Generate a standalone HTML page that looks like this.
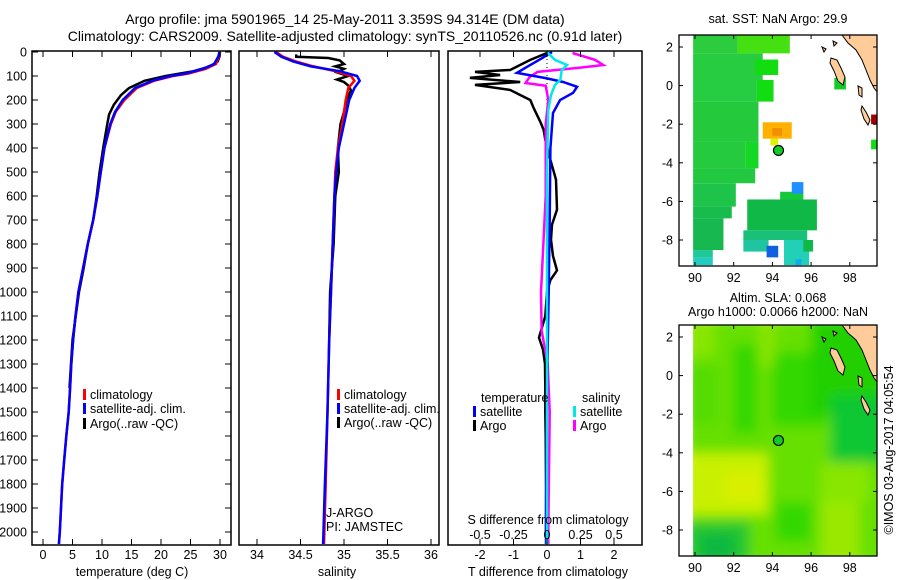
<!DOCTYPE html>
<html><head><meta charset="utf-8">
<style>
body{margin:0;background:#fff;}
svg{display:block;font-family:"Liberation Sans",sans-serif;}
text{fill:#000;}
</style></head>
<body>
<svg id="fig" width="900" height="580" viewBox="0 0 900 580" xmlns="http://www.w3.org/2000/svg">
<text x="345" y="24" font-size="14" text-anchor="middle">Argo profile: jma 5901965_14 25-May-2011 3.359S 94.314E (DM data)</text>
<text x="345" y="41" font-size="14" text-anchor="middle">Climatology: CARS2009. Satellite-adjusted climatology: synTS_20110526.nc (0.91d later)</text>
<g id="p1"></g>
<g id="p2"></g>
<g id="p3"></g>
<g id="m1"></g>
<g id="m2"></g>
<text transform="translate(893,450) rotate(-90)" font-size="12.5" text-anchor="middle">©IMOS 03-Aug-2017 04:05:54</text>
</svg>
<script>
// ---- data ----
const depthTicks=[0,100,200,300,400,500,600,700,800,900,1000,1100,1200,1300,1400,1500,1600,1700,1800,1900,2000];
const tempTicks=[0,5,10,15,20,25,30];
const salTicks=[34,34.5,35,35.5,36];
const salTickLabels=["34","34.5","35","35.5","36"];
const tdiffTicks=[-2,-1,0,1,2];
const sdiffTicks=[-0.5,-0.25,0,0.25,0.5];
const sdiffTickLabels=["-0.5","-0.25","0","0.25","0.5"];

const depthT=[0,20,50,70,90,100,120,150,200,250,300,400,500,600,700,800,900,1000,1100,1200,1300,1400,1500,1600,1700,1800,1900,2000,2050];
const tClim=[30,29.8,29.3,27.6,24.6,22,18.8,15.9,13.8,12.3,11.5,10.4,9.8,9.2,8.5,7.6,6.8,6.0,5.5,5.1,4.8,4.6,4.35,3.95,3.6,3.25,3.05,2.85,2.7];
const tSat=[29.9,29.7,29.0,27.1,24.1,21.6,18.5,15.6,13.5,12.2,11.4,10.4,9.8,9.2,8.5,7.6,6.8,6.0,5.5,5.1,4.8,4.6,4.35,3.95,3.6,3.25,3.05,2.85,2.7];
const depthTA=[0,20,40,60,80,100,120,150,180,220,260,300,400,500,600,700,800,900,1000,1200,1400];
const tArgo=[30,29.9,29.6,28.3,25.5,20.8,17.2,14.6,13.2,12.0,11.2,10.9,10.2,9.6,9.1,8.5,7.6,6.9,6.1,5.0,4.5];

const depthS=[0,20,40,60,80,100,120,150,200,300,400,500,600,800,1000,1200,1500,1800,2050];
const sClim=[34.22,34.3,34.45,34.65,34.9,35.08,35.12,35.05,35.02,34.98,34.93,34.9,34.89,34.87,34.85,34.83,34.81,34.79,34.77];
const sSat=[34.2,34.28,34.42,34.62,34.95,35.15,35.18,35.12,35.06,35.0,34.94,34.91,34.89,34.87,34.85,34.83,34.81,34.78,34.76];
const depthSA=[10,20,25,35,50,60,70,85,100,115,125,140,160,200,250,300,400,500,600,800,1000,1200];
const sArgo=[34.45,34.45,34.82,34.95,35.0,34.9,35.0,34.92,35.05,34.92,35.0,35.05,35.08,35.03,35.0,34.96,34.93,34.94,34.9,34.88,34.84,34.83];

const depthD=[0,30,62,87,110,125,145,170,200,254,400,700,1000,1400,2000,2050];
const dtSat=[0.15,-0.2,-0.6,-0.9,0,0.48,0.9,0.78,0.39,0.18,0.1,0.08,0.05,0,-0.03,-0.03];
const depthDA=[4,33,75,83,96,108,125,137,158,179,200,233,262,291,324,366,449,532,657,719,782,850,910,950,1000,1100,1190,1240,1300,1400,1500,1600,1800,2000];
const dtArgo=[0,-0.5,-1.1,-2.15,-1.4,-2.3,-0.8,-2.15,-1.1,-0.8,-0.5,-0.4,-0.3,-0.2,-0.1,-0.05,0.1,0.27,0.3,0.15,0.12,0.18,0.3,0.1,0,-0.05,-0.24,-0.12,-0.06,-0.05,-0.05,-0.04,-0.03,-0.03];
const depthDS=[0,33,54,75,116,137,179,241,500,1000,1500,2050];
const dsSat=[0,0.06,0.15,0.11,0.1,0.06,0.03,0.01,0,0,0,0];
const depthDSA=[4,33,54,66,83,104,129,141,200,300,600,950,1000,1160,1300,1500,2000,2050];
const dsArgo=[0.19,0.36,0.42,0.24,-0.07,-0.13,-0.16,-0.01,0.01,-0.01,-0.01,-0.04,-0.045,-0.04,0.005,0.02,0.01,0.01];

const argoLon=94.314, argoLat=-3.359;
const lonTicks=[90,92,94,96,98];
const latTicks=[2,0,-2,-4,-6,-8];

// ---- helpers ----
const NS="http://www.w3.org/2000/svg";
function mk(parent,tag,attrs,txt){const e=document.createElementNS(NS,tag);for(const k in attrs)e.setAttribute(k,attrs[k]);if(txt!==undefined)e.textContent=txt;parent.appendChild(e);return e;}
const yD=d=>52+d*0.24;
const xT=t=>43+t*5.9;
const xS=s=>257+(s-34)*87;
const xDT=t=>547+t*33.5;
const xDS=s=>547+s*134;

function frame(g,x0,x1,name){
  const r=mk(g,'rect',{x:x0,y:51,width:x1-x0,height:494,fill:'none',stroke:'#000','stroke-width':1.5});
  
  
}
function series(g,xs,ds,fx,color,name,w){
  const pts=xs.map((v,i)=>fx(v).toFixed(1)+','+yD(ds[i]).toFixed(1)).join(' ');
  const p=mk(g,'polyline',{points:pts,fill:'none',stroke:color,'stroke-width':w||2.5,'stroke-linejoin':'miter'});
  
  
}
function xticks(g,vals,labels,fx,ylab,name,top){
  vals.forEach((v,i)=>{
    const x=fx(v);
    mk(g,'line',{x1:x,x2:x,y1:545,y2:539,stroke:'#000','stroke-width':1});
    if(top!==false) mk(g,'line',{x1:x,x2:x,y1:51,y2:57,stroke:'#000','stroke-width':1});
    const t=mk(g,'text',{x:x,y:ylab,'font-size':12.5,'text-anchor':'middle'},labels[i]);
    
    
  });
}
function legend(g,x,y,color,label){
  mk(g,'rect',{x:x,y:y-9,width:3,height:11,fill:color});
  const t=mk(g,'text',{x:x+7,y:y+1,'font-size':12.5},label);
  
  
}

// ---- panel 1 ----
const p1=document.getElementById('p1');
depthTicks.forEach(d=>{
  const y=yD(d);
  mk(p1,'line',{x1:32,x2:38,y1:y,y2:y,stroke:'#000'});
  mk(p1,'line',{x1:231,x2:225,y1:y,y2:y,stroke:'#000'});
  const t=mk(p1,'text',{x:27,y:y+4.5,'font-size':12.5,'text-anchor':'end'},String(d));
  
  
});
series(p1,tArgo,depthTA,xT,'#000','temp-argo-line');
series(p1,tClim,depthT,xT,'#f00','temp-climatology-line');
series(p1,tSat,depthT,xT,'#0000ff','temp-satellite-line');
frame(p1,32,231,'temperature');
xticks(p1,tempTicks,tempTicks.map(String),xT,559,'temp');
const xl1=mk(p1,'text',{x:132,y:576,'font-size':12.5,'text-anchor':'middle'},'temperature (deg C)');


legend(p1,83,398,'#f00','climatology');
legend(p1,83,412,'#0000ff','satellite-adj. clim.');
legend(p1,83,427,'#000','Argo(..raw -QC)');

// ---- panel 2 ----
const p2=document.getElementById('p2');
series(p2,sArgo,depthSA,xS,'#000','salinity-argo-line');
series(p2,sClim,depthS,xS,'#f00','salinity-climatology-line');
series(p2,sSat,depthS,xS,'#0000ff','salinity-satellite-line');
frame(p2,239,439,'salinity');
xticks(p2,salTicks,salTickLabels,xS,559,'salinity');
const xl2=mk(p2,'text',{x:337,y:576,'font-size':12.5,'text-anchor':'middle'},'salinity');


legend(p2,337,398,'#f00','climatology');
legend(p2,337,412,'#0000ff','satellite-adj. clim.');
legend(p2,337,426,'#000','Argo(..raw -QC)');
const ja=mk(p2,'text',{x:326,y:517,'font-size':12.5},'J-ARGO');


const pi=mk(p2,'text',{x:326,y:531,'font-size':12.5},'PI: JAMSTEC');



// ---- panel 3 ----
const p3=document.getElementById('p3');
mk(p3,'line',{x1:547,x2:547,y1:51,y2:545,stroke:'#000','stroke-width':1,'stroke-dasharray':'1,3'});
series(p3,dtArgo,depthDA,xDT,'#000','tdiff-argo-line');
series(p3,dsArgo,depthDSA,xDS,'#ff00ff','sdiff-argo-line');
series(p3,dtSat,depthD,xDT,'#0000ff','tdiff-satellite-line');
series(p3,dsSat,depthDS,xDS,'#00e8e8','sdiff-satellite-line');
frame(p3,448,642,'difference');
xticks(p3,tdiffTicks,tdiffTicks.map(String),xDT,559,'tdiff');
sdiffTicks.forEach((v,i)=>{
  const t=mk(p3,'text',{x:xDS(v),y:539,'font-size':12.5,'text-anchor':'middle'},sdiffTickLabels[i]);
  
  
});
const sl=mk(p3,'text',{x:548,y:524,'font-size':12.5,'text-anchor':'middle'},'S difference from climatology');


const tl=mk(p3,'text',{x:548,y:576,'font-size':12.5,'text-anchor':'middle'},'T difference from climatology');


const lt=mk(p3,'text',{x:481,y:402,'font-size':12.5},'temperature');


const ls=mk(p3,'text',{x:582,y:402,'font-size':12.5},'salinity');


legend(p3,473,415,'#0000ff','satellite');
legend(p3,473,429,'#000','Argo');
legend(p3,573,415,'#00e8e8','satellite');
legend(p3,573,429,'#ff00ff','Argo');

// ---- maps ----
const mapX=lon=>695+(lon-90)*19.35;
function makeMap(g,top,id,cells,blur,titles,titleY){
  const off=top-35;
  const mY=lat=>47+off-(lat-2)*19.3;
  const cp=mk(g,'clipPath',{id:'clip'+id});
  mk(cp,'rect',{x:mapX(89.9),y:top,width:877-mapX(89.9),height:231});
  const cg=mk(g,'g',{'clip-path':'url(#clip'+id+')'});
  const inner=mk(cg,'g',blur?{filter:'url(#blur)'}:{});
  cells.forEach(c=>{
    const r=mk(inner,'rect',{x:mapX(c[0]),y:mY(c[2]),width:mapX(c[1])-mapX(c[0]),height:mY(c[3])-mY(c[2]),fill:c[4]});
    
    
  });
  const land=[[842,35],[848,43],[856,50],[862,60],[866,70],[870,80],[874,88],[878,93],[878,35]];
  const lp=mk(cg,'polygon',{points:land.map(p=>p[0]+','+(p[1]+off)).join(' '),fill:'#ffcc99',stroke:'#000','stroke-width':1});
  
  
  const isl=[[[831,58],[837,60],[841,68],[845,77],[843,85],[838,81],[834,71],[830,63]],[[858,86],[862,88],[862,97],[859,95]],[[862,106],[866,112],[870,120],[868,125],[864,119],[861,110]],[[822,47],[826,49],[824,52]],[[833,41],[837,43],[834,46]]];
  isl.forEach(poly=>{
    const ip=mk(cg,'polygon',{points:poly.map(p=>p[0]+','+(p[1]+off)).join(' '),fill:'#ffcc99',stroke:'#000','stroke-width':1});
    
    
  });
  const mk1=mk(g,'circle',{cx:mapX(argoLon),cy:mY(argoLat),r:5,fill:'#11cc22',stroke:'#000','stroke-width':1.2});
  
  
  const fr=mk(g,'rect',{x:679,y:top,width:198,height:231,fill:'none',stroke:'#000','stroke-width':1.3});
  
  
  lonTicks.forEach(l=>{
    const x=mapX(l);
    mk(g,'line',{x1:x,x2:x,y1:top,y2:top+4,stroke:'#000'});
    mk(g,'line',{x1:x,x2:x,y1:top+231,y2:top+227,stroke:'#000'});
    const t=mk(g,'text',{x:x,y:top+247,'font-size':12.5,'text-anchor':'middle'},String(l));
    
    
  });
  latTicks.forEach(l=>{
    const y=mY(l);
    mk(g,'line',{x1:679,x2:683,y1:y,y2:y,stroke:'#000'});
    mk(g,'line',{x1:877,x2:873,y1:y,y2:y,stroke:'#000'});
    const t=mk(g,'text',{x:673,y:y+4.5,'font-size':12.5,'text-anchor':'end'},String(l));
    
    
  });
  titles.forEach((s,i)=>{
    const t=mk(g,'text',{x:778,y:titleY+i*14,'font-size':12.5,'text-anchor':'middle'},s);
    
    
  });
}
const defs=mk(document.getElementById('fig'),'defs',{});
const f=mk(defs,'filter',{id:'blur',x:'-10%',y:'-10%',width:'120%',height:'120%'});
mk(f,'feGaussianBlur',{stdDeviation:6});

const sstCells=[
 [89.9,92.2,2.62,1.67,'#2ccc3e'],[92.2,94.9,2.62,1.67,'#44e012'],
 [89.9,93.5,1.67,0.29,'#28cc40'],[93.1,94.3,1.35,0.55,'#11dd11'],
 [89.9,93.2,0.29,-0.83,'#26cc42'],[93.2,94.06,0.29,-0.83,'#11dd11'],
 [89.9,93.28,-0.83,-2.9,'#24ca3c'],[92.6,93.28,-2.9,-4.29,'#14d824'],[89.9,92.6,-2.9,-4.29,'#26ca3e'],
 [89.9,93.11,-4.29,-5.06,'#22c840'],[89.9,92.11,-5.06,-6.27,'#1ec44a'],[89.9,91.9,-6.27,-6.88,'#18bc4c'],
 [89.9,91.47,-6.88,-8.52,'#18b850'],[89.9,90.92,-8.52,-8.9,'#20c898'],[89.9,90.92,-8.9,-9.3,'#22ccc0'],
 [93.5,95.0,-1.9,-2.75,'#ffb000'],[94.0,94.5,-2.2,-2.6,'#f09000'],[93.9,94.3,-2.75,-3.1,'#e0f000'],
 [94.4,95.6,-5.5,-5.9,'#14c83a'],[92.7,96.3,-5.9,-7.5,'#10b848'],[92.5,95.8,-7.5,-8.0,'#18c078'],
 [92.5,93.8,-8.0,-8.6,'#20c4a0'],[94.6,95.9,-8.0,-9.3,'#22d0b8'],[95.6,96.1,-8.0,-8.6,'#10b848'],
 [95.0,95.6,-5.0,-5.6,'#1e90ff'],[93.7,94.3,-8.3,-8.9,'#1060e0'],[95.2,95.5,-9.0,-9.3,'#11aaee'],
 [97.2,97.8,0.4,-0.2,'#11cc22'],[99.1,99.6,-2.8,-3.3,'#11dd11'],[99.1,99.6,-1.5,-2.0,'#a00000']
];
const slaCells=[
 [89.5,100,3.0,-9.8,'#66e000'],
 [92.0,93.2,1.6,-3.0,'#33d800'],[94.0,96.8,1.2,-2.6,'#33d800'],[96.0,100,3.0,-2.0,'#22d000'],
 [97.0,100,-1.0,-4.5,'#0ec830'],[89.5,93.8,-4.0,-7.2,'#c8f000'],[91.5,93.5,-5.0,-6.5,'#d8f000'],
 [89.5,92.8,-7.6,-9.8,'#22c630'],[90.3,92.0,-8.2,-9.8,'#10b840'],[94.2,96.0,-6.6,-8.6,'#33d800'],
 [96.5,98.5,-6.5,-9.8,'#9ae800'],[89.5,91.2,0.5,-2.5,'#55dc00'],[96.5,99.0,-4.5,-6.5,'#88e600'],
 [89.5,91.0,3.0,1.0,'#88e600'],[93.3,94.1,3.0,0.5,'#88e400']
];
makeMap(document.getElementById('m1'),35,'1',sstCells,false,['sat. SST: NaN Argo: 29.9'],23);
makeMap(document.getElementById('m2'),325,'2',slaCells,true,['Altim. SLA: 0.068','Argo h1000: 0.0066 h2000: NaN'],302);
</script>
</body></html>
